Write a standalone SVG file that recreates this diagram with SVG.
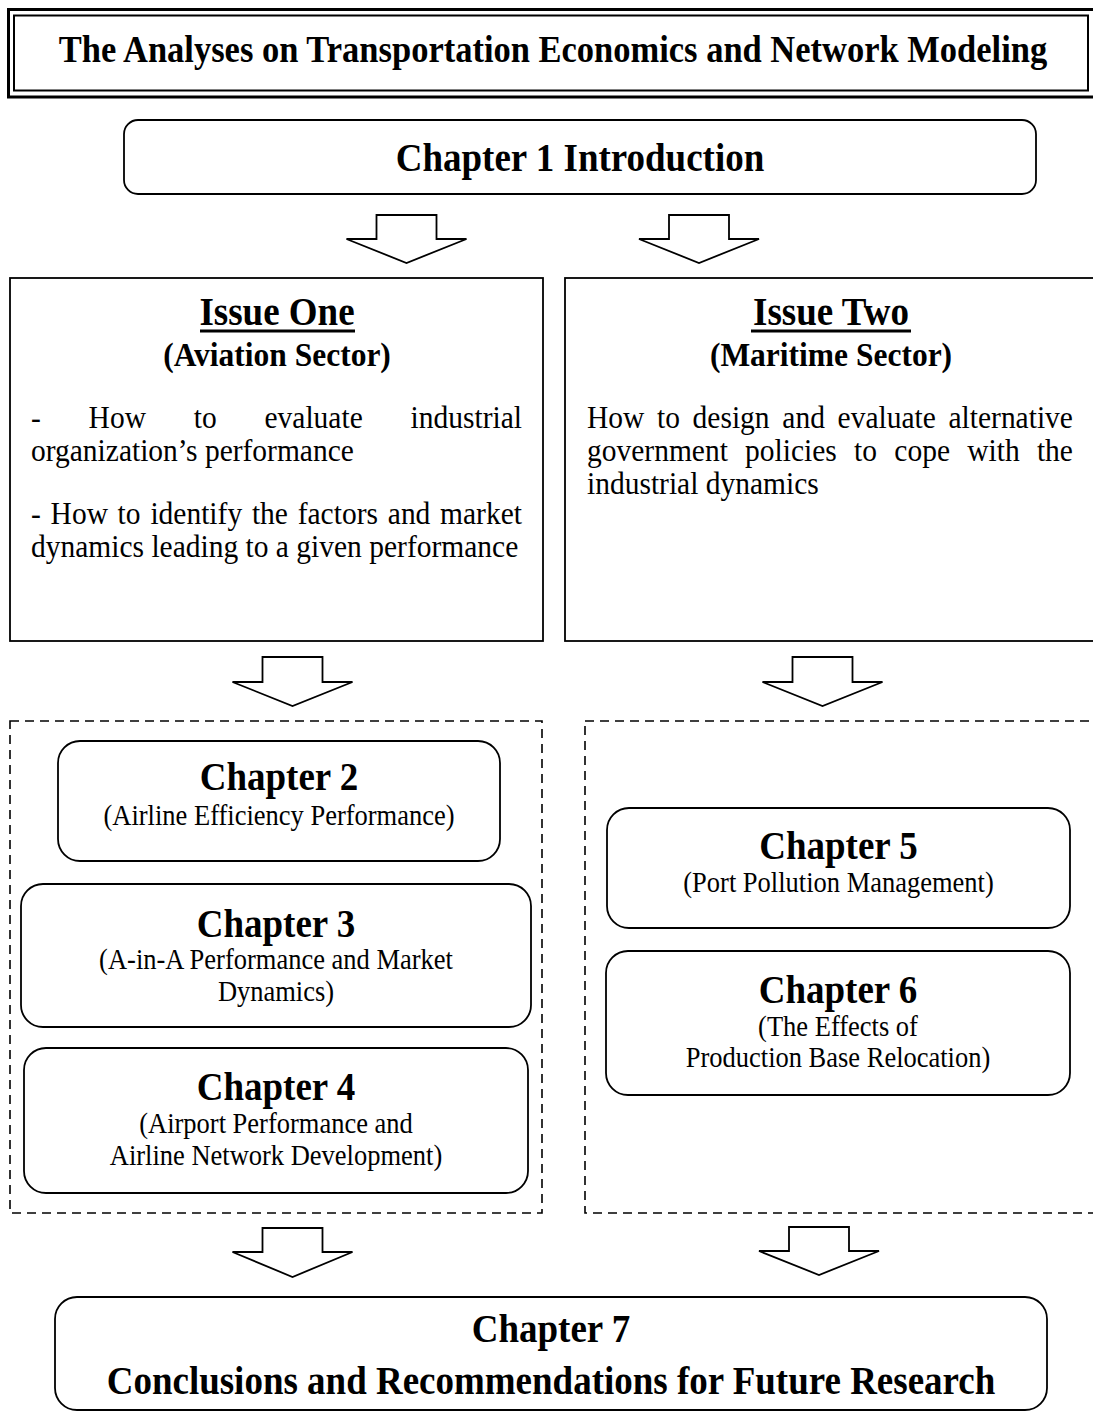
<svg xmlns="http://www.w3.org/2000/svg" width="1093" height="1418" viewBox="0 0 1093 1418">
<style>
.bx{fill:#fff;stroke:#000;stroke-width:1.8}
.dash{fill:none;stroke:#000;stroke-width:1.6;stroke-dasharray:9 6}
.arr{fill:#fff;stroke:#000;stroke-width:1.8;stroke-linejoin:miter}
text{font-family:"Liberation Serif","Times New Roman",serif;fill:#000}
.h{font-weight:bold;font-size:37px;text-anchor:middle}
.t{font-weight:bold;font-size:34.5px;text-anchor:middle}
.s{font-weight:bold;font-size:31.5px;text-anchor:middle}
.b{font-size:29.5px}
.sub{font-size:26.5px;text-anchor:middle}
</style>
<rect width="1093" height="1418" fill="#fff"/>
<g id="title">
<rect x="8.5" y="9.5" width="1095" height="87.5" fill="#fff" stroke="#000" stroke-width="3"/>
<rect x="14" y="15.5" width="1074" height="75" fill="none" stroke="#000" stroke-width="2"/>
<text class="t" transform="translate(553,62) scale(1,1.1)">The Analyses on Transportation Economics and Network Modeling</text>
</g>
<g id="connectors">
<path class="arr" d="M376.5 215 h60 v24 h30 l-60 24 l-60 -24 h30 z"/>
<path class="arr" d="M669 215 h60 v24 h30 l-60 24 l-60 -24 h30 z"/>
<path class="arr" d="M262.5 657 h60 v25 h30 l-60 24 l-60 -24 h30 z"/>
<path class="arr" d="M792.5 657 h60 v25 h30 l-60 24 l-60 -24 h30 z"/>
<path class="arr" d="M262.5 1228 h60 v24 h30 l-60 25 l-60 -25 h30 z"/>
<path class="arr" d="M789 1227 h60 v24 h30 l-60 24 l-60 -24 h30 z"/>
</g>
<g id="ch1">
<rect class="bx" x="124" y="120" width="912" height="74" rx="14"/>
<text class="h" transform="translate(580,171) scale(1,1.1)">Chapter 1 Introduction</text>
</g>
<g id="issue1">
<rect class="bx" x="10" y="278" width="533" height="363"/>
<text class="h" transform="translate(277,325) scale(1,1.1)">Issue One</text>
<rect x="200" y="329.5" width="155" height="3" fill="#000"/>
<text class="s" transform="translate(277,366) scale(1,1.1)">(Aviation Sector)</text>
<text class="b" transform="translate(0,428) scale(1,1.1)"><tspan x="31">-</tspan><tspan x="88.6">How</tspan><tspan x="193.7">to</tspan><tspan x="264.5">evaluate</tspan><tspan x="410.6">industrial</tspan></text>
<text class="b" transform="translate(0,461) scale(1,1.1)"><tspan x="31">organization’s performance</tspan></text>
<text class="b" transform="translate(0,524) scale(1,1.1)"><tspan x="31">-</tspan><tspan x="50.6">How</tspan><tspan x="117.6">to</tspan><tspan x="150.4">identify</tspan><tspan x="251.9">the</tspan><tspan x="297.7">factors</tspan><tspan x="387.8">and</tspan><tspan x="440.1">market</tspan></text>
<text class="b" transform="translate(0,557) scale(1,1.1)"><tspan x="31">dynamics leading to a given performance</tspan></text>
</g>
<g id="issue2">
<rect class="bx" x="565" y="278" width="540" height="363"/>
<text class="h" transform="translate(831,325) scale(1,1.1)">Issue Two</text>
<rect x="751" y="329.5" width="160" height="3" fill="#000"/>
<text class="s" transform="translate(831,366) scale(1,1.1)">(Maritime Sector)</text>
<text class="b" transform="translate(0,428) scale(1,1.1)"><tspan x="587">How</tspan><tspan x="657">to</tspan><tspan x="692.6">design</tspan><tspan x="782.3">and</tspan><tspan x="837.6">evaluate</tspan><tspan x="948.5">alternative</tspan></text>
<text class="b" transform="translate(0,461) scale(1,1.1)"><tspan x="587">government</tspan><tspan x="745.1">policies</tspan><tspan x="854.1">to</tspan><tspan x="894.3">cope</tspan><tspan x="967.2">with</tspan><tspan x="1036.9">the</tspan></text>
<text class="b" transform="translate(0,494) scale(1,1.1)"><tspan x="587">industrial dynamics</tspan></text>
</g>
<g id="group-aviation">
<rect class="dash" x="10" y="721" width="532" height="492"/>
</g>
<g id="group-maritime">
<rect class="dash" x="585" y="721" width="520" height="492"/>
</g>
<g id="ch2">
<rect class="bx" x="58" y="741" width="442" height="120" rx="22"/>
<text class="h" transform="translate(279,790) scale(1,1.1)">Chapter 2</text>
<text class="sub" transform="translate(279,825) scale(1,1.1)">(Airline Efficiency Performance)</text>
</g>
<g id="ch3">
<rect class="bx" x="21" y="884" width="510" height="143" rx="22"/>
<text class="h" transform="translate(276,937) scale(1,1.1)">Chapter 3</text>
<text class="sub" transform="translate(276,969) scale(1,1.1)">(A-in-A Performance and Market</text>
<text class="sub" transform="translate(276,1001) scale(1,1.1)">Dynamics)</text>
</g>
<g id="ch4">
<rect class="bx" x="24" y="1048" width="504" height="145" rx="22"/>
<text class="h" transform="translate(276,1100) scale(1,1.1)">Chapter 4</text>
<text class="sub" transform="translate(276,1133) scale(1,1.1)">(Airport Performance and</text>
<text class="sub" transform="translate(276,1165) scale(1,1.1)">Airline Network Development)</text>
</g>
<g id="ch5">
<rect class="bx" x="607" y="808" width="463" height="120" rx="22"/>
<text class="h" transform="translate(838.5,859) scale(1,1.1)">Chapter 5</text>
<text class="sub" transform="translate(838.5,892) scale(1,1.1)">(Port Pollution Management)</text>
</g>
<g id="ch6">
<rect class="bx" x="606" y="951" width="464" height="144" rx="22"/>
<text class="h" transform="translate(838,1003) scale(1,1.1)">Chapter 6</text>
<text class="sub" transform="translate(838,1036) scale(1,1.1)">(The Effects of</text>
<text class="sub" transform="translate(838,1067) scale(1,1.1)">Production Base Relocation)</text>
</g>
<g id="ch7">
<rect class="bx" x="55" y="1297" width="992" height="113" rx="22"/>
<text class="h" transform="translate(551,1342) scale(1,1.1)">Chapter 7</text>
<text class="h" transform="translate(551,1394) scale(1,1.1)">Conclusions and Recommendations for Future Research</text>
</g>
</svg>
